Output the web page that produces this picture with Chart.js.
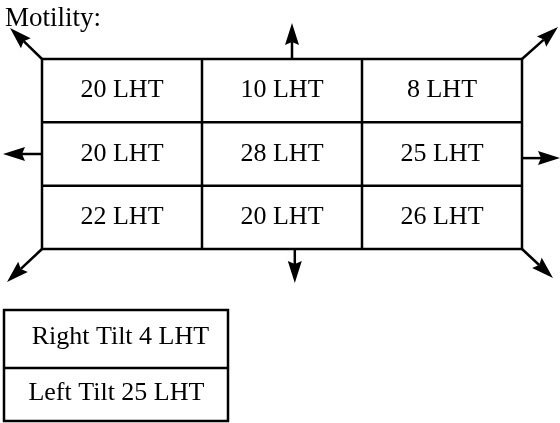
<!DOCTYPE html>
<html>
<head>
<meta charset="utf-8">
<script src="https://cdn.jsdelivr.net/npm/chart.js@4"></script>
<style>
  html, body { margin: 0; padding: 0; background: #fff; }
  canvas { display: block; }
</style>
</head>
<body>
<canvas id="motility" width="560" height="423"></canvas>
<script>
// gaze positions: 3 columns x 3 rows
const columns = ['left', 'center', 'right'];
const rows = ['up', 'primary', 'down'];
const cellValues = [
  [20, 10, 8],
  [20, 28, 25],
  [22, 20, 26]
];
const unit = 'LHT';
const tiltLabels = ['Right Tilt', 'Left Tilt'];
const tiltValues = [4, 25];
const heading = 'Motility:';

const FONT = "'Liberation Serif', 'Times New Roman', serif";

// build the points: one per cell, centered in the cell
const cellPoints = [];
rows.forEach((r, i) => {
  columns.forEach((c, j) => {
    cellPoints.push({ x: j + 0.5, y: i + 0.5, label: cellValues[i][j] + ' ' + unit });
  });
});

// tilt box below the grid (in the same units)
const tiltBox = { left: -0.2375, right: 1.1625, top: 3.963, mid: 4.879, bottom: 5.716 };
const tiltPoints = tiltLabels.map((t, i) => ({
  x: i == 0 ? 0.49 : 0.465,
  y: i == 0 ? 4.39 : 5.27,
  label: t + ' ' + tiltValues[i] + ' ' + unit
}));

// arrows: anchor on the grid (units) + direction in pixels
const arrows = [
  { ax: 0, ay: 0, dx: -32, dy: -31 },
  { ax: 1.5625, ay: 0, dx: 0, dy: -36 },
  { ax: 3, ay: 0, dx: 36, dy: -32 },
  { ax: 0, ay: 1.5, dx: -39, dy: 0 },
  { ax: 3, ay: 1.565, dx: 38, dy: 0 },
  { ax: 0, ay: 3, dx: -35, dy: 33 },
  { ax: 1.58, ay: 3, dx: 0, dy: 34 },
  { ax: 3, ay: 3, dx: 31, dy: 29 }
];

function drawArrow(ctx, x0, y0, x1, y1) {
  const ang = Math.atan2(y1 - y0, x1 - x0);
  const len = 22, half = 7, notch = 3;
  ctx.beginPath();
  ctx.moveTo(x0, y0);
  ctx.lineTo(x1 - Math.cos(ang) * (len - notch), y1 - Math.sin(ang) * (len - notch));
  ctx.stroke();
  ctx.save();
  ctx.translate(x1, y1);
  ctx.rotate(ang);
  ctx.beginPath();
  ctx.moveTo(0, 0);
  ctx.lineTo(-len, -half);
  ctx.lineTo(-len + notch, 0);
  ctx.lineTo(-len, half);
  ctx.closePath();
  ctx.fill();
  ctx.restore();
}

const diagramPlugin = {
  id: 'diagram',
  afterDatasetsDraw(chart) {
    const ctx = chart.ctx;
    const xs = chart.scales.x, ys = chart.scales.y;
    const px = v => xs.getPixelForValue(v);
    const py = v => ys.getPixelForValue(v);
    ctx.save();
    ctx.strokeStyle = '#000';
    ctx.fillStyle = '#000';
    ctx.lineWidth = 2.5;
    ctx.lineCap = 'square';

    // grid
    ctx.beginPath();
    for (let i = 0; i <= rows.length; i++) {
      ctx.moveTo(px(0), py(i));
      ctx.lineTo(px(columns.length), py(i));
    }
    for (let j = 0; j <= columns.length; j++) {
      ctx.moveTo(px(j), py(0));
      ctx.lineTo(px(j), py(rows.length));
    }
    ctx.stroke();

    // tilt box
    ctx.beginPath();
    ctx.rect(px(tiltBox.left), py(tiltBox.top), px(tiltBox.right) - px(tiltBox.left), py(tiltBox.bottom) - py(tiltBox.top));
    ctx.moveTo(px(tiltBox.left), py(tiltBox.mid));
    ctx.lineTo(px(tiltBox.right), py(tiltBox.mid));
    ctx.stroke();

    // arrows
    ctx.lineCap = 'butt';
    arrows.forEach(a => {
      const x0 = px(a.ax), y0 = py(a.ay);
      drawArrow(ctx, x0, y0, x0 + a.dx, y0 + a.dy);
    });

    // labels
    ctx.font = '26px ' + FONT;
    ctx.textAlign = 'center';
    ctx.textBaseline = 'middle';
    chart.data.datasets.forEach((ds, di) => {
      chart.getDatasetMeta(di).data.forEach((el, k) => {
        ctx.fillText(ds.data[k].label, el.x, el.y);
      });
    });

    ctx.textAlign = 'left';
    ctx.textBaseline = 'alphabetic';
    ctx.font = '27px ' + FONT;
    ctx.fillText(heading, 5, 26);
    ctx.restore();
  }
};

new Chart(document.getElementById('motility'), {
  type: 'scatter',
  data: {
    datasets: [
      { label: 'Gaze', data: cellPoints, pointRadius: 0, pointHoverRadius: 0 },
      { label: 'Tilt', data: tiltPoints, pointRadius: 0, pointHoverRadius: 0 }
    ]
  },
  options: {
    responsive: false,
    animation: false,
    devicePixelRatio: 1,
    layout: { padding: 0 },
    scales: {
      x: { type: 'linear', min: -42 / 160, max: 518 / 160, display: false },
      y: { type: 'linear', reverse: true, min: -59 / 63.33, max: 364 / 63.33, display: false }
    },
    plugins: {
      legend: { display: false },
      tooltip: { enabled: false }
    }
  },
  plugins: [diagramPlugin]
});
</script>
</body>
</html>
